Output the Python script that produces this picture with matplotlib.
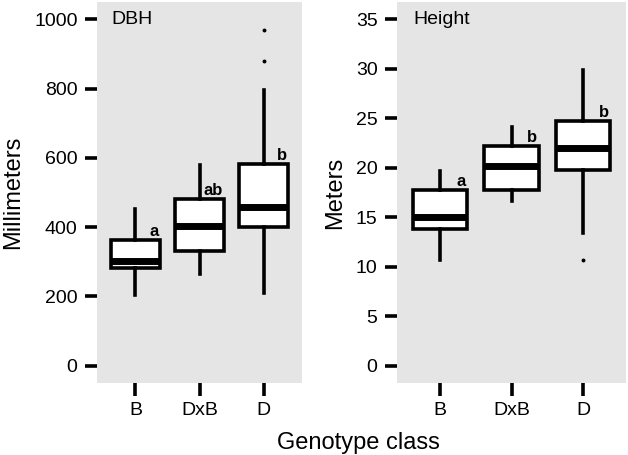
import numpy as np
import matplotlib
matplotlib.use("Agg")
import matplotlib.pyplot as plt

plt.rcParams["font.family"] = ["Liberation Sans", "DejaVu Sans"]

groups = ["B", "DxB", "D"]

# DBH (mm): whisker low, q1, median, q3, whisker high
dbh_lo = [205, 264, 210]
dbh_q1 = [283, 332, 401]
dbh_med = [303, 404, 459]
dbh_q3 = [363, 481, 581]
dbh_hi = [452, 580, 795]
dbh_out = [[], [], [880, 968]]
dbh_letters = ["a", "ab", "b"]

# Height (m)
ht_lo = [10.7, 16.6, 13.4]
ht_q1 = [13.8, 17.8, 19.8]
ht_med = [15.0, 20.2, 22.0]
ht_q3 = [17.8, 22.2, 24.7]
ht_hi = [19.7, 24.1, 29.9]
ht_out = [[], [], [10.7]]
ht_letters = ["a", "b", "b"]


def make_stats(lo, q1, med, q3, hi, out):
    return [dict(whislo=lo[i], q1=q1[i], med=med[i], q3=q3[i], whishi=hi[i],
                 fliers=out[i]) for i in range(len(lo))]


def panel(ax, stats, letters, q3, ylim, yticks, ylabel, title, loff):
    ax.set_facecolor("#e5e5e5")
    ax.bxp(stats, positions=[1, 2, 3], widths=0.76, showcaps=False,
           patch_artist=True,
           boxprops=dict(facecolor="white", edgecolor="black", linewidth=2.6),
           medianprops=dict(color="black", linewidth=5, solid_capstyle="butt"),
           whiskerprops=dict(color="black", linewidth=2.6),
           flierprops=dict(marker="o", markersize=1.8, markerfacecolor="black",
                           markeredgecolor="black"))
    for i, lab in enumerate(letters):
        ax.text(i + 1 + 0.36, q3[i] + loff, lab, ha="right", va="baseline",
                fontsize=12, fontweight="bold")
    ax.set_xlim(0.4, 3.6)
    ax.set_ylim(*ylim)
    ax.set_yticks(yticks)
    ax.set_xticks([1, 2, 3])
    ax.set_xticklabels(groups)
    for s in ax.spines.values():
        s.set_visible(False)
    ax.tick_params(axis="both", length=9, width=2.6, labelsize=14, pad=5)
    ax.set_ylabel(ylabel, fontsize=17, labelpad=7)
    ax.text(0.07, 0.955, title, transform=ax.transAxes, ha="left", va="center",
            fontsize=14)


fig = plt.figure(figsize=(6.28, 4.55), dpi=100)
ax1 = fig.add_axes([97 / 628, 72 / 455, 205 / 628, 381 / 455])
ax2 = fig.add_axes([397 / 628, 72 / 455, 229 / 628, 381 / 455])

panel(ax1, make_stats(dbh_lo, dbh_q1, dbh_med, dbh_q3, dbh_hi, dbh_out),
      dbh_letters, dbh_q3, (-50, 1050), [0, 200, 400, 600, 800, 1000],
      "Millimeters", "DBH", 12)
panel(ax2, make_stats(ht_lo, ht_q1, ht_med, ht_q3, ht_hi, ht_out),
      ht_letters, ht_q3, (-1.75, 36.75), [0, 5, 10, 15, 20, 25, 30, 35],
      "Meters", "Height", 0.4)

fig.text(358 / 628, 12 / 455, "Genotype class", ha="center", va="center",
         fontsize=17)

fig.savefig("out.png", dpi=100)
